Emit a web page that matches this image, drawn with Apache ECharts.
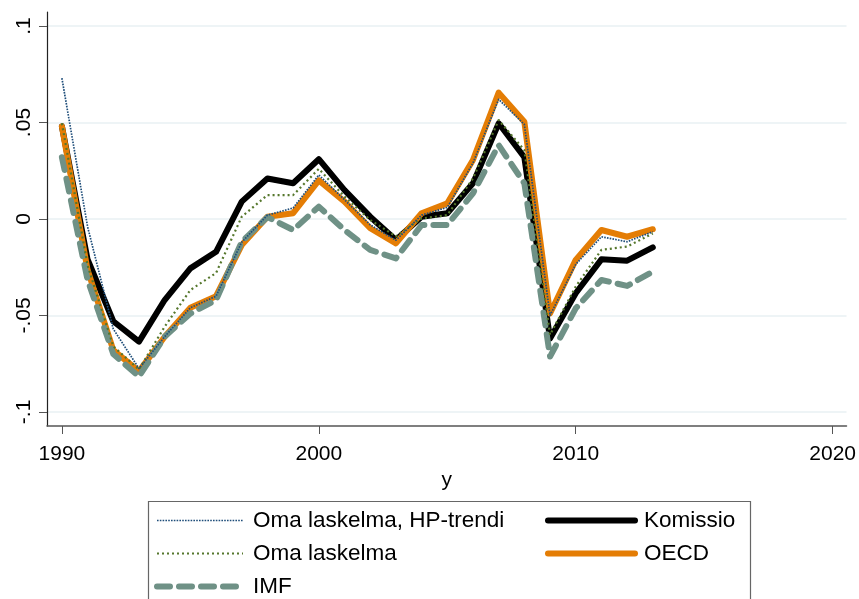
<!DOCTYPE html>
<html>
<head>
<meta charset="utf-8">
<script src="https://cdn.jsdelivr.net/npm/echarts@6/dist/echarts.min.js"></script>
<style>
  html, body { margin: 0; padding: 0; background: #fff; }
  #main { width: 859px; height: 599px; }
</style>
</head>
<body>
<div id="main"></div>
<script>
// years on the x axis
const years = [1990, 1991, 1992, 1993, 1994, 1995, 1996, 1997, 1998, 1999, 2000, 2001,
  2002, 2003, 2004, 2005, 2006, 2007, 2008, 2009, 2010, 2011, 2012, 2013];

// output gap estimates
const hpTrendi = [0.073, -0.004, -0.057, -0.0775, -0.061, -0.046, -0.040, -0.012, 0.002, 0.0057, 0.0228, 0.010,
  -0.003, -0.011, 0.002, 0.006, 0.029, 0.062, 0.049, -0.050, -0.0235, -0.0092, -0.0118, -0.0066];
const komissio = [0.048, -0.021, -0.053, -0.0636, -0.042, -0.0256, -0.017, 0.009, 0.021, 0.0185, 0.031, 0.015,
  0.0012, -0.0109, 0.0012, 0.003, 0.0185, 0.0496, 0.032, -0.062, -0.0385, -0.0209, -0.0216, -0.0147];
const omaLaskelma = [0.0496, -0.024, -0.066, -0.078, -0.0558, -0.0368, -0.028, 0.0012, 0.0124, 0.0124, 0.026, 0.0116,
  -0.0005, -0.009, 0.0003, 0.002, 0.021, 0.0513, 0.0357, -0.060, -0.035, -0.016, -0.0143, -0.0075];
const oecd = [0.048, -0.0264, -0.068, -0.079, -0.061, -0.046, -0.040, -0.0135, 0.0012, 0.003, 0.020, 0.009,
  -0.0048, -0.0126, 0.003, 0.0081, 0.0306, 0.0655, 0.0504, -0.049, -0.0212, -0.0057, -0.0092, -0.0053];
const imf = [0.032, -0.0316, -0.07, -0.0817, -0.061, -0.049, -0.042, -0.0118, 0.001, -0.0057, 0.0064, -0.0057,
  -0.016, -0.0204, -0.0031, -0.0031, 0.0133, 0.0383, 0.0185, -0.0713, -0.0463, -0.0316, -0.0347, -0.0273];

// tick values and labels
const xTicks = [1990, 2000, 2010, 2020];
const yTicks = [-0.1, -0.05, 0, 0.05, 0.1];
const yTickLabels = ['-.1', '-.05', '0', '.05', '.1'];

const FONT = 'Liberation Sans, Arial, sans-serif';

const styles = {
  'Komissio': { color: '#000000', width: 6, type: 'solid', cap: 'round', z: 1 },
  'OECD': { color: '#e47d05', width: 6, type: 'solid', cap: 'round', z: 2 },
  'IMF': { color: '#6f9186', width: 6, type: [13, 9], cap: 'round', z: 3 },
  'Oma laskelma': { color: '#55772c', width: 2.2, type: [2, 3], cap: 'butt', z: 4 },
  'Oma laskelma, HP-trendi': { color: '#1f4e7a', width: 1.7, type: [1.6, 1.2], cap: 'butt', z: 5 }
};

function pairs(vals) {
  return years.map((y, i) => [y, vals[i]]);
}

function line(name, vals) {
  const s = styles[name];
  return {
    name: name,
    type: 'line',
    data: pairs(vals),
    showSymbol: false,
    symbol: 'none',
    z: s.z,
    lineStyle: { color: s.color, width: s.width, type: s.type, cap: s.cap, join: 'round' },
    itemStyle: { color: s.color },
    emphasis: { disabled: true }
  };
}

function legendItem(name) {
  const s = styles[name];
  return {
    name: name,
    itemStyle: { color: 'rgba(0,0,0,0)', borderWidth: 0, opacity: 0 },
    lineStyle: { color: s.color, width: s.width, type: s.type, cap: s.cap }
  };
}

const chart = echarts.init(document.getElementById('main'));
chart.setOption({
  animation: false,
  backgroundColor: '#fff',
  textStyle: { fontFamily: FONT },
  grid: { left: 47, right: 12, top: 12, bottom: 173 },
  xAxis: {
    type: 'value',
    min: 1989.42,
    max: 2020.54,
    name: 'y',
    nameLocation: 'middle',
    nameGap: 40,
    nameTextStyle: { fontSize: 21, color: '#000', fontFamily: FONT },
    axisLine: { show: true, onZero: false, lineStyle: { color: '#555', width: 1.5 } },
    axisTick: { show: true, customValues: xTicks, length: 8, lineStyle: { color: '#555' } },
    axisLabel: {
      customValues: xTicks,
      fontSize: 21,
      color: '#000',
      margin: 18,
      fontFamily: FONT,
      formatter: v => String(Math.round(v))
    },
    splitLine: { show: false }
  },
  yAxis: {
    type: 'value',
    min: -0.1073,
    max: 0.1073,
    axisLine: { show: true, onZero: false, lineStyle: { color: '#222', width: 1.2 } },
    axisTick: { show: true, customValues: yTicks, length: 8, lineStyle: { color: '#555' } },
    axisLabel: {
      customValues: yTicks,
      rotate: 90,
      fontSize: 21,
      color: '#000',
      margin: 12,
      fontFamily: FONT,
      formatter: v => yTickLabels[yTicks.findIndex(t => Math.abs(t - v) < 1e-9)]
    },
    splitLine: { show: true, lineStyle: { color: '#e9f0f3', width: 1.5 } }
  },
  graphic: [{
    type: 'rect',
    left: 146,
    top: 499,
    shape: { width: 602, height: 120 },
    style: { fill: 'none', stroke: '#666', lineWidth: 1.2 },
    silent: true
  }],
  legend: [{
    orient: 'vertical',
    left: 154,
    top: 509,
    padding: 0,
    itemWidth: 86,
    itemHeight: 14,
    itemGap: 10,
    selectedMode: false,
    data: ['Oma laskelma, HP-trendi', 'Oma laskelma', 'IMF'].map(legendItem),
    textStyle: { fontSize: 22.5, lineHeight: 22, color: '#000', fontFamily: FONT, padding: [0, 0, 0, 5] }
  }, {
    orient: 'vertical',
    left: 545,
    top: 509,
    padding: 0,
    itemWidth: 87,
    itemHeight: 14,
    itemGap: 10,
    selectedMode: false,
    data: ['Komissio', 'OECD'].map(legendItem),
    textStyle: { fontSize: 22.5, lineHeight: 22, color: '#000', fontFamily: FONT, padding: [0, 0, 0, 4] }
  }],
  series: [
    line('Komissio', komissio),
    line('OECD', oecd),
    line('IMF', imf),
    line('Oma laskelma', omaLaskelma),
    line('Oma laskelma, HP-trendi', hpTrendi)
  ]
});
</script>
</body>
</html>
